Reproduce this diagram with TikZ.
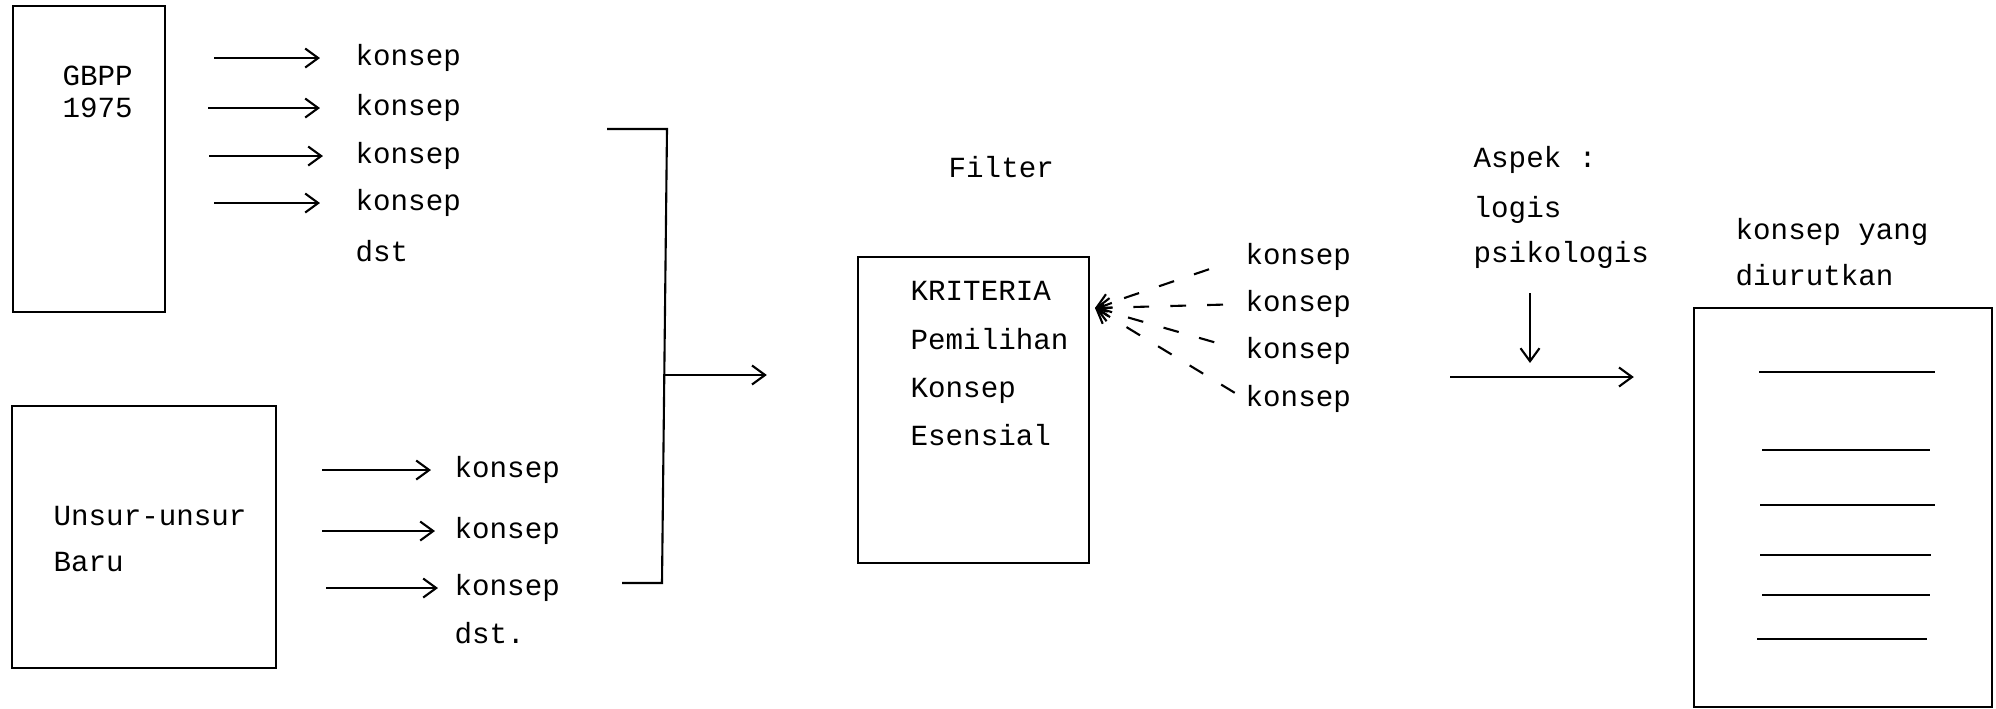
\documentclass[tikz,border=0pt]{standalone}
\usepackage{fontspec}
\setmonofont{Liberation Mono}
\usetikzlibrary{arrows.meta}

\begin{document}
\begin{tikzpicture}[x=0.01cm,y=-0.01cm,
  teks/.style={anchor=mid west,inner sep=0pt,font=\ttfamily\fontsize{8.3}{10}\selectfont},
  kotak/.style={draw,line width=0.6pt,inner sep=0pt},
  panah/.style={line width=0.6pt,-{Straight Barb[length=1.3mm,width=1.9mm]}},
  putus/.style={panah,dash pattern=on 4.5pt off 6pt}]
\useasboundingbox (0,0) rectangle (1996,709);

\node[kotak,minimum width=1.52cm,minimum height=3.06cm] (gbpp) at (89,159) {};
\node[teks] (g1) at (62,78) {GBPP};
\node[teks] (g2) at (62,110) {1975};
\foreach \i/\y in {1/58,2/108,3/156,4/203}
  \node[teks] (ka\i) at (355,\y) {konsep};
\node[teks] (kadst) at (355,254) {dst};
\foreach \i/\a/\b in {1/4.8/3.5,2/4.2/3.5,3/4.3/3.2,4/4.8/3.5}
  \draw[panah,shorten <=\a mm,shorten >=\b mm] (gbpp.east |- ka\i.west) -- (ka\i.west);

\node[kotak,minimum width=2.64cm,minimum height=2.62cm] (unsur) at (144,537) {};
\node[teks] (u1) at (53,518) {Unsur-unsur};
\node[teks] (u2) at (53,564) {Baru};
\foreach \i/\y in {1/470,2/531,3/588}
  \node[teks] (kb\i) at (454,\y) {konsep};
\node[teks] (kbdst) at (454,636) {dst.};
\foreach \i/\a/\b in {1/4.5/2.3,2/4.5/1.9,3/4.9/1.6}
  \draw[panah,shorten <=\a mm,shorten >=\b mm] (unsur.east |- kb\i.west) -- (kb\i.west);

\draw[line width=0.6pt] (607,129) -- (667,129) -- (662,583) -- (622,583);
\coordinate (brk) at (665,375);

\node[teks] (filter) at (948,170) {Filter};
\node[kotak,minimum width=2.31cm,minimum height=3.06cm] (krit) at (973.5,410) {};
\node[teks] (kr1) at (910,293) {KRITERIA};
\node[teks] (kr2) at (910,342) {Pemilihan};
\node[teks] (kr3) at (910,390) {Konsep};
\node[teks] (kr4) at (910,438) {Esensial};
\draw[panah,shorten >=9mm] (brk) -- (brk -| krit.west);

\foreach \i/\y in {1/257,2/304,3/351,4/399}
  \node[teks] (rk\i) at (1245,\y) {konsep};
\coordinate (tip) at (1095,308);
\foreach \i/\s in {1/3.8,2/2.2,3/3.2,4/1.2}
  \draw[putus,shorten <=\s mm] (rk\i.west) -- (tip);

\node[teks] (as1) at (1473,160) {Aspek :};
\node[teks] (as2) at (1473,210) {logis};
\node[teks] (as3) at (1473,255) {psikologis};

\node[kotak,minimum width=2.98cm,minimum height=3.99cm] (urut) at (1843,507.5) {};
\node[teks] (ur1) at (1735,232) {konsep yang};
\node[teks] (ur2) at (1735,278) {diurutkan};
\foreach \a/\b/\y in {1759/1935/372,1762/1930/450,1760/1935/505,1760/1931/555,1762/1930/595,1757/1927/639}
  \draw[line width=0.8pt] (\a,\y) -- (\b,\y);

\coordinate (hs) at (1450,377);
\draw[panah,shorten >=5.9mm] (hs) -- (hs -| urut.west);
\coordinate (vs) at (1530,293);
\draw[panah,shorten >=1.4mm] (vs) -- (vs |- hs);
\end{tikzpicture}
\end{document}
